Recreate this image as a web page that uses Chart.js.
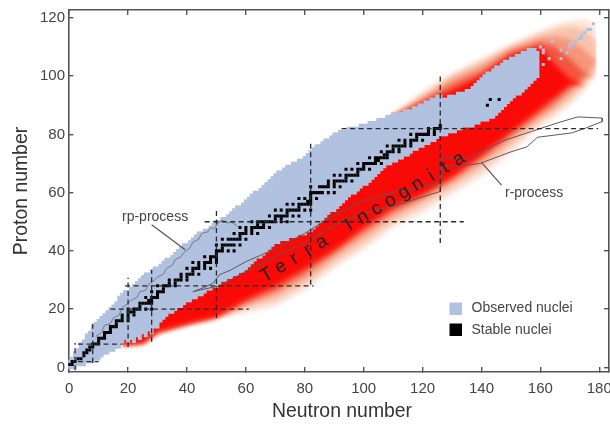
<!DOCTYPE html>
<html><head><meta charset="utf-8">
<style>html,body{margin:0;padding:0;background:#fff}canvas{display:block;filter:blur(0.7px)}</style>
<script src="https://cdn.jsdelivr.net/npm/chart.js@4"></script>
</head><body><canvas id="c" width="610" height="424"></canvas>
<script>
const xTicks=[0,20,40,60,80,100,120,140,160,180];
const yTicks=[0,20,40,60,80,100,120];
// observed nuclei: lowest and highest proton number per neutron number, N = index
const observedZMin=[0,0,0,1,1,1,2,2,2,3,3,4,5,5,6,6,7,7,9,10,9,10,9,11,10,12,11,13,12,14,14,16,17,18,19,19,20,21,21,22,23,23,24,24,25,25,26,27,27,28,28,29,30,30,31,31,32,32,33,33,34,35,36,37,38,38,39,40,41,42,43,43,44,44,44,45,45,45,46,46,46,47,47,48,49,50,51,52,53,54,54,55,56,57,58,59,60,60,61,62,63,63,64,65,66,67,68,69,70,70,71,71,72,72,73,73,74,75,75,76,76,77,77,78,78,79,80,80,80,81,81,81,82,82,83,83,83,83,84,84,85,85,85,86,86,87,88,89,90,91,92,93,94,94,95,96,97,98,99,100];
const observedZMax=[2,3,5,6,8,9,11,12,14,15,16,17,18,19,20,21,22,24,25,26,26,27,28,29,30,31,32,32,33,34,34,35,36,37,37,38,39,40,41,42,42,43,44,45,46,46,47,47,48,49,50,50,51,51,52,53,54,55,55,56,57,58,59,60,60,61,62,63,64,65,66,67,67,68,69,69,70,70,71,71,72,73,74,75,76,76,77,78,78,79,80,80,81,81,81,82,82,82,82,83,83,83,84,84,84,85,85,85,86,86,87,87,87,87,88,88,88,89,89,90,90,91,91,92,92,93,93,92,92,93,93,93,94,94,94,95,95,96,97,98,99,100,101,101,102,103,103,104,105,105,106,106,107,107,108,108,109,109,109,108];
// isolated observed nuclei beyond the main block
const observedExtraN=[160,161,161,163,161,164,167,169,167,170,171,170,172,173,174,174,175,176,177,178];
const observedExtraZ=[110,109,104,106,108,112,109,108,106,111,111,110,112,113,113,114,115,116,116,118];
// stable nuclei
const stableZ=[1,2,3,4,5,6,7,8,9,10,11,12,13,14,15,16,17,18,19,20,21,22,23,24,25,26,27,28,29,30,31,32,33,34,35,36,37,38,39,40,41,42,44,45,46,47,48,49,50,51,52,53,54,55,56,57,58,59,60,62,63,64,65,66,67,68,69,70,71,72,73,74,75,76,77,78,79,80,81,82,83,90,92];
const stableN=[[0,1],[1,2],[3,4],[5],[5,6],[6,7],[7,8],[8,9,10],[10],[10,11,12],[12],[12,13,14],[14],[14,15,16],[16],[16,17,18,20],[18,20],[18,20,22],[20,21,22],[20,22,23,24,26,28],[24],[24,25,26,27,28],[27,28],[26,28,29,30],[30],[28,30,31,32],[32],[30,32,33,34,36],[34,36],[34,36,37,38,40],[38,40],[38,40,41,42,44],[42],[40,42,43,44,46,48],[44,46],[42,44,46,47,48,50],[48,50],[46,48,49,50],[50],[50,51,52,54,56],[52],[50,52,53,54,55,56,58],[52,54,55,56,57,58,60],[58],[56,58,59,60,62,64],[60,62],[58,60,62,63,64,65,66,68],[64,66],[62,64,65,66,67,68,69,70,72,74],[70,72],[68,70,71,72,73,74,76,78],[74],[70,72,74,75,76,77,78,80,82],[78],[74,76,78,79,80,81,82],[81,82],[78,80,82,84],[82],[82,83,84,85,86,88,90],[82,85,86,87,88,90,92],[88,90],[88,90,91,92,93,94,96],[94],[90,92,94,95,96,97,98],[98],[94,96,98,99,100,102],[100],[98,100,101,102,103,104,106],[104,105],[102,104,105,106,107,108],[107,108],[106,108,109,110,112],[110,112],[108,110,111,112,113,114,116],[114,116],[112,114,116,117,118,120],[118],[116,118,119,120,121,122,124],[122,124],[122,124,125,126],[126],[142],[143,146]];
// Terra Incognita: bands from outer (palest) to the solid red core
const redN=[18,25,30,40,50,60,70,80,90,100,110,120,130,140,150,160,165,170,175,179];
const band0Hi=[10,14,18,27,32,38,46,55,65,75,87,94.6,101,106,111,115.5,117.5,119,119.5,117];
const band0Lo=[7.6,8.4,11.8,14.6,17,18.8,21,26.5,34,40.5,48,53,59.5,65.5,73.5,83,86,90,95,101];
const band1Hi=[10,14,18,27,32,38,46,55,65,75,86.6,93.4,100,105,110.2,114.5,116,117,116,112];
const band1Lo=[7.7,8.5,12,14.8,17.2,20.2,23,28.5,36,42.5,50,55.5,61.5,68,76,84.5,88,92,97,103];
const band2Hi=[10,14,18,27,32,38,46,55,65,75,86.3,92.4,98.8,103.5,109.3,113,113.5,112.5,109,105];
const band2Lo=[7.7,8.5,12,14.9,17.3,21.4,25,30.5,38,45,52,57.5,63.5,70.2,78.3,86,89.5,94,99,105];
const band3Hi=[10,14,18,27,32,38,46,55,65,75,86,91.4,97,101.5,108.2,111.5,110,106,101,100];
const band3Lo=[7.8,8.5,12.1,15,17.4,22.4,26.5,32.5,39.5,46.8,53.8,58.8,64.8,72,80,87.5,91.5,96,100,100];
const band4Hi=[10,14,18,27,32,38,46,55,65,75,85.5,90.4,95,100,107,110,104,99,97,96];
const band4Lo=[7.8,8.5,12.3,15.1,17.5,23.4,28,34,40.5,48,55,59.5,65.5,73,81,89,93,97,97,96];
const bandColors=['#fbe2d6','#f8c3ac','#f5957a','#f4553f','#fa0a06'];
// process paths
const rpN=[9,11,12,14,15,17,18,20,21,23,24,26,27,29,30,32,33,35,36,38,39,41,42,44,45,47,48,49,51,52,54,55,57];
const rpZ=[10.6,12,14.5,15,17,18,20.5,22,23,24,26,26.5,28.5,30,31,32,34,35,37,38,39.5,41,43,44,46,46.5,48,47.5,50,50.5,49.5,50,48.5];
const rN=[42,46,49,51,55,60,65,70.5,80,87,93.6,100.4,109.6,118.4,126,126,135,141,148,157,166,172.7,181,181,175,170.6,159,155.4,150,141,139.4,135.5,126.6,126,118.4,110.6,100,93.6,87,80,72.6,60,51,42];
const rZ=[26,27.5,29,31.8,33.5,36.3,38.5,41,46,50.5,54,57.5,60,61.6,63.3,71.9,71.9,74.7,78,81,84,86,85.6,84.4,82,80.5,79,75.7,74,70.6,70,69.5,69,60.4,58,55.5,53,50.6,47,42.7,39.3,33,28,26];
// magic-number dashed guides
const magicVerticalN=[2,8,20,28,50,82,126];
const magicVerticalFrom=[-1,1.6,7,8.8,17,28.4,42.7];
const magicVerticalTo=[8.4,15.7,30.8,33.5,54,77.4,100.4];
const magicHorizontalZ=[2,8,20,28,50,82];
const magicHorizontalFrom=[3,3,14,19,46,92.5];
const magicHorizontalTo=[10,18,61,83,134,179.6];
const leaderRpN=[28,39.4],leaderRpZ=[49,40.4];
const leaderRN=[146.8,140],leaderRZ=[62.6,70.4];
const terraText='Terra Incognita';

const zip=(xs,ys)=>xs.map((x,i)=>({x,y:ys[i]}));
const line=(data,color,width,order,dash)=>({type:'line',data,borderColor:color,borderWidth:width,borderDash:dash||[],pointRadius:0,fill:false,tension:0,order,clip:false});
const cell=(data,color,order)=>({type:'scatter',data,backgroundColor:color,borderWidth:0,pointStyle:'rect',pointRadius:2.15,order});

const datasets=[];
[[band4Hi,band4Lo],[band3Hi,band3Lo],[band2Hi,band2Lo],[band1Hi,band1Lo],[band0Hi,band0Lo]].forEach((b,i)=>{
  const color=bandColors[4-i], order=20+i;
  datasets.push({type:'line',data:zip(redN,b[0]),borderWidth:0,pointRadius:0,tension:0,backgroundColor:color,fill:'+1',order});
  datasets.push({type:'line',data:zip(redN,b[1]),borderWidth:0,pointRadius:0,tension:0,fill:false,order:order+0.5});
});
datasets.push({type:'bar',data:observedZMin.map((lo,n)=>({x:n,y:[lo-0.5,observedZMax[n]+0.5]})),backgroundColor:'#b1c1e0',borderWidth:0,barThickness:3.3,grouped:false,order:6});
datasets.push(cell(zip(observedExtraN,observedExtraZ),'#b1c1e0',5));
datasets.push(cell(stableZ.flatMap((z,i)=>stableN[i].map(n=>({x:n,y:z}))),'#000',3));
datasets.push(line(zip(rpN,rpZ),'#7a7a84',1,2));
datasets.push(line(zip(rN,rZ),'#5a5a5a',1,2));
magicVerticalN.forEach((n,i)=>datasets.push(line([{x:n,y:magicVerticalFrom[i]},{x:n,y:magicVerticalTo[i]}],'#2a2a2a',1.3,1,[5,3.5])));
magicHorizontalZ.forEach((z,i)=>datasets.push(line([{x:magicHorizontalFrom[i],y:z},{x:magicHorizontalTo[i],y:z}],'#2a2a2a',1.3,1,[5,3.5])));
datasets.push(line(zip(leaderRpN,leaderRpZ),'#555',1.2,1));
datasets.push(line(zip(leaderRN,leaderRZ),'#555',1.2,1));

const frame='#555';
const axisTicks=list=>s=>{s.ticks=list.map(value=>({value}))};
const noPad=s=>{s.paddingLeft=s.paddingRight=s.paddingTop=s.paddingBottom=0};
const sideScale=(pos,min,max,list)=>({type:'linear',position:pos,min,max,offset:false,
  afterBuildTicks:axisTicks(list),
  afterFit:s=>{noPad(s);if(pos==='top')s.height=0;else s.width=0;},
  ticks:{display:false},border:{display:true,color:frame,width:1.6},
  grid:{offset:false,drawOnChartArea:false,drawTicks:true,tickLength:-5,color:frame,lineWidth:1.4}});

const overlay={id:'overlay',afterDatasetsDraw(chart){
  const {ctx,scales:{x,y}}=chart;
  ctx.save();
  ctx.fillStyle='#444';ctx.textBaseline='middle';ctx.textAlign='left';
  ctx.font='14px "Liberation Sans"';
  ctx.fillText('rp-process',122,217);
  ctx.fillText('r-process',505,193);
  ctx.fillText('Observed nuclei',471.5,308.5);
  ctx.fillText('Stable nuclei',471.5,330.5);
  ctx.fillStyle='#b1c1e0';ctx.fillRect(449.5,302.5,12.5,12.5);
  ctx.fillStyle='#000';ctx.fillRect(449.5,323.5,12.5,12.5);
  ctx.fillStyle='#333';ctx.textAlign='center';ctx.font='19.4px "Liberation Sans"';
  ctx.fillText('Neutron number',342,412);
  // widely spaced letters along the neutron-drip diagonal
  ctx.fillStyle='#222';ctx.font='19px "Liberation Sans"';
  const x0=x.getPixelForValue(67.2),y0=y.getPixelForValue(31.6);
  const a=-31.2*Math.PI/180;
  [...terraText].forEach((ch,k)=>{
    ctx.save();ctx.translate(x0+k*16*Math.cos(a),y0+k*16*Math.sin(a));ctx.rotate(a);ctx.fillText(ch,0,0);ctx.restore();
  });
  ctx.restore();
}};

const filler=Chart.registry.getPlugin('filler');
const fillerDraw=filler.beforeDraw;
filler.beforeDraw=function(chart,args,opts){
  const ctx=chart.ctx;ctx.save();ctx.filter='blur(2.5px)';
  fillerDraw.call(this,chart,args,opts);
  ctx.restore();
};

new Chart(document.getElementById('c'),{
  type:'bar',
  data:{datasets},
  plugins:[overlay],
  options:{
    responsive:false,animation:false,devicePixelRatio:1,
    layout:{autoPadding:false,padding:{left:0,right:1,top:10,bottom:0}},
    plugins:{legend:{display:false},tooltip:{enabled:false},filler:{drawTime:'beforeDraw',propagate:false}},
    scales:{
      x:{type:'linear',position:'bottom',min:-0.3,max:183.3,offset:false,
        afterBuildTicks:axisTicks(xTicks),afterFit:s=>{noPad(s);s.height=52},
        ticks:{autoSkip:false,maxRotation:0,padding:13,color:'#444',font:{family:'"Liberation Sans"',size:15},callback:v=>String(v)},
        border:{display:true,color:frame,width:1.6},
        grid:{offset:false,drawOnChartArea:false,drawTicks:true,tickLength:-5,color:frame,lineWidth:1.4}},
      y:{type:'linear',position:'left',min:-1.58,max:122.7,
        afterBuildTicks:axisTicks(yTicks),afterFit:s=>{noPad(s);s.width=68.3},
        ticks:{autoSkip:false,padding:8.3,color:'#444',font:{family:'"Liberation Sans"',size:15},callback:v=>String(v)},
        border:{display:true,color:frame,width:1.6},
        grid:{drawOnChartArea:false,drawTicks:true,tickLength:-5,color:frame,lineWidth:1.4},
        title:{display:true,text:'Proton number',color:'#333',font:{family:'"Liberation Sans"',size:19.4},padding:{top:10,bottom:0}}},
      x2:sideScale('top',-0.3,183.3,xTicks),
      y2:sideScale('right',-1.58,122.7,yTicks)
    }
  }
});
</script></body></html>
